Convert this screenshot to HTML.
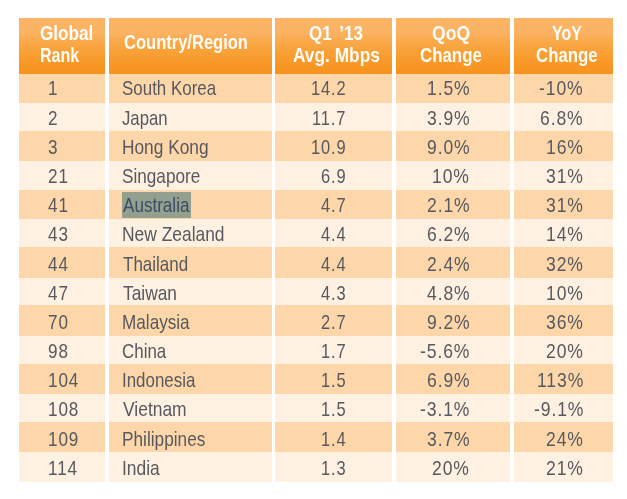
<!DOCTYPE html>
<html><head><meta charset="utf-8"><title>Average connection speed</title><style>
html,body{margin:0;padding:0;background:#fff}
#c{position:relative;width:627px;height:499px;overflow:hidden;background:#fff}
#c div{position:absolute}
.hd{top:18px;height:56px;background:linear-gradient(#fbb465 0%,#fbb263 27%,#faaa4d 40%,#f9a33c 55%,#f89a2b 75%,#f7931e 100%)}
.d{background:#fdd7aa}
.l{background:#fef1e2}
.hl{background:#93a08f}
.n,.t,.h{position:absolute;white-space:pre;transform-origin:0 0;line-height:24px;font-family:"Liberation Sans",sans-serif;color:#57595f}
.n{font-size:20.4px;font-weight:normal;letter-spacing:1.05px;}
.t{font-size:21.0px;font-weight:normal;}
.h{font-size:19.4px;font-weight:bold;color:#fffdf8}
</style></head><body><div id="c">
<div class="hd" style="left:19px;width:86px"></div>
<div class="hd" style="left:109px;width:163px"></div>
<div class="hd" style="left:275px;width:117px"></div>
<div class="hd" style="left:396px;width:114px"></div>
<div class="hd" style="left:514px;width:99px"></div>
<div class="d" style="left:19px;top:74px;width:86px;height:29px"></div>
<div class="d" style="left:109px;top:74px;width:163px;height:29px"></div>
<div class="d" style="left:275px;top:74px;width:117px;height:29px"></div>
<div class="d" style="left:396px;top:74px;width:114px;height:29px"></div>
<div class="d" style="left:514px;top:74px;width:99px;height:29px"></div>
<div class="l" style="left:19px;top:103px;width:86px;height:28px"></div>
<div class="l" style="left:109px;top:103px;width:163px;height:28px"></div>
<div class="l" style="left:275px;top:103px;width:117px;height:28px"></div>
<div class="l" style="left:396px;top:103px;width:114px;height:28px"></div>
<div class="l" style="left:514px;top:103px;width:99px;height:28px"></div>
<div class="d" style="left:19px;top:131px;width:86px;height:30px"></div>
<div class="d" style="left:109px;top:131px;width:163px;height:30px"></div>
<div class="d" style="left:275px;top:131px;width:117px;height:30px"></div>
<div class="d" style="left:396px;top:131px;width:114px;height:30px"></div>
<div class="d" style="left:514px;top:131px;width:99px;height:30px"></div>
<div class="l" style="left:19px;top:161px;width:86px;height:29px"></div>
<div class="l" style="left:109px;top:161px;width:163px;height:29px"></div>
<div class="l" style="left:275px;top:161px;width:117px;height:29px"></div>
<div class="l" style="left:396px;top:161px;width:114px;height:29px"></div>
<div class="l" style="left:514px;top:161px;width:99px;height:29px"></div>
<div class="d" style="left:19px;top:190px;width:86px;height:29px"></div>
<div class="d" style="left:109px;top:190px;width:163px;height:29px"></div>
<div class="d" style="left:275px;top:190px;width:117px;height:29px"></div>
<div class="d" style="left:396px;top:190px;width:114px;height:29px"></div>
<div class="d" style="left:514px;top:190px;width:99px;height:29px"></div>
<div class="l" style="left:19px;top:219px;width:86px;height:28px"></div>
<div class="l" style="left:109px;top:219px;width:163px;height:28px"></div>
<div class="l" style="left:275px;top:219px;width:117px;height:28px"></div>
<div class="l" style="left:396px;top:219px;width:114px;height:28px"></div>
<div class="l" style="left:514px;top:219px;width:99px;height:28px"></div>
<div class="d" style="left:19px;top:247px;width:86px;height:31px"></div>
<div class="d" style="left:109px;top:247px;width:163px;height:31px"></div>
<div class="d" style="left:275px;top:247px;width:117px;height:31px"></div>
<div class="d" style="left:396px;top:247px;width:114px;height:31px"></div>
<div class="d" style="left:514px;top:247px;width:99px;height:31px"></div>
<div class="l" style="left:19px;top:278px;width:86px;height:27px"></div>
<div class="l" style="left:109px;top:278px;width:163px;height:27px"></div>
<div class="l" style="left:275px;top:278px;width:117px;height:27px"></div>
<div class="l" style="left:396px;top:278px;width:114px;height:27px"></div>
<div class="l" style="left:514px;top:278px;width:99px;height:27px"></div>
<div class="d" style="left:19px;top:305px;width:86px;height:31px"></div>
<div class="d" style="left:109px;top:305px;width:163px;height:31px"></div>
<div class="d" style="left:275px;top:305px;width:117px;height:31px"></div>
<div class="d" style="left:396px;top:305px;width:114px;height:31px"></div>
<div class="d" style="left:514px;top:305px;width:99px;height:31px"></div>
<div class="l" style="left:19px;top:336px;width:86px;height:28px"></div>
<div class="l" style="left:109px;top:336px;width:163px;height:28px"></div>
<div class="l" style="left:275px;top:336px;width:117px;height:28px"></div>
<div class="l" style="left:396px;top:336px;width:114px;height:28px"></div>
<div class="l" style="left:514px;top:336px;width:99px;height:28px"></div>
<div class="d" style="left:19px;top:364px;width:86px;height:30px"></div>
<div class="d" style="left:109px;top:364px;width:163px;height:30px"></div>
<div class="d" style="left:275px;top:364px;width:117px;height:30px"></div>
<div class="d" style="left:396px;top:364px;width:114px;height:30px"></div>
<div class="d" style="left:514px;top:364px;width:99px;height:30px"></div>
<div class="l" style="left:19px;top:394px;width:86px;height:28px"></div>
<div class="l" style="left:109px;top:394px;width:163px;height:28px"></div>
<div class="l" style="left:275px;top:394px;width:117px;height:28px"></div>
<div class="l" style="left:396px;top:394px;width:114px;height:28px"></div>
<div class="l" style="left:514px;top:394px;width:99px;height:28px"></div>
<div class="d" style="left:19px;top:422px;width:86px;height:30px"></div>
<div class="d" style="left:109px;top:422px;width:163px;height:30px"></div>
<div class="d" style="left:275px;top:422px;width:117px;height:30px"></div>
<div class="d" style="left:396px;top:422px;width:114px;height:30px"></div>
<div class="d" style="left:514px;top:422px;width:99px;height:30px"></div>
<div class="l" style="left:19px;top:452px;width:86px;height:30px"></div>
<div class="l" style="left:109px;top:452px;width:163px;height:30px"></div>
<div class="l" style="left:275px;top:452px;width:117px;height:30px"></div>
<div class="l" style="left:396px;top:452px;width:114px;height:30px"></div>
<div class="l" style="left:514px;top:452px;width:99px;height:30px"></div>
<div class="hl" style="left:122px;top:192px;width:69px;height:25.5px"></div>
<span class="n" style="left:47.60px;top:76.00px;transform:scaleX(0.8398)">1</span>
<span class="t" style="left:121.54px;top:76.00px;transform:scaleX(0.8069)">South Korea</span>
<span class="n" style="left:310.85px;top:76.00px;transform:scaleX(0.8077)">14.2</span>
<span class="n" style="left:426.59px;top:76.00px;transform:scaleX(0.8599)">1.5%</span>
<span class="n" style="left:539.33px;top:76.00px;transform:scaleX(0.8599)">-10%</span>
<span class="n" style="left:47.60px;top:106.00px;transform:scaleX(0.8398)">2</span>
<span class="t" style="left:122.24px;top:106.00px;transform:scaleX(0.7969)">Japan</span>
<span class="n" style="left:312.04px;top:106.00px;transform:scaleX(0.8077)">11.7</span>
<span class="n" style="left:426.59px;top:106.00px;transform:scaleX(0.8599)">3.9%</span>
<span class="n" style="left:540.19px;top:106.00px;transform:scaleX(0.8599)">6.8%</span>
<span class="n" style="left:47.60px;top:135.00px;transform:scaleX(0.8398)">3</span>
<span class="t" style="left:122.08px;top:135.00px;transform:scaleX(0.8241)">Hong Kong</span>
<span class="n" style="left:310.83px;top:135.00px;transform:scaleX(0.8077)">10.9</span>
<span class="n" style="left:426.59px;top:135.00px;transform:scaleX(0.8599)">9.0%</span>
<span class="n" style="left:546.09px;top:135.00px;transform:scaleX(0.8599)">16%</span>
<span class="n" style="left:47.60px;top:164.00px;transform:scaleX(0.8398)">21</span>
<span class="t" style="left:121.83px;top:164.00px;transform:scaleX(0.8173)">Singapore</span>
<span class="n" style="left:320.91px;top:164.00px;transform:scaleX(0.8077)">6.9</span>
<span class="n" style="left:432.49px;top:164.00px;transform:scaleX(0.8599)">10%</span>
<span class="n" style="left:546.09px;top:164.00px;transform:scaleX(0.8599)">31%</span>
<span class="n" style="left:47.60px;top:193.00px;transform:scaleX(0.8398)">41</span>
<span class="t" style="left:122.68px;top:193.00px;transform:scaleX(0.8132);color:#3a4d62">Australia</span>
<span class="n" style="left:320.93px;top:193.00px;transform:scaleX(0.8077)">4.7</span>
<span class="n" style="left:426.59px;top:193.00px;transform:scaleX(0.8599)">2.1%</span>
<span class="n" style="left:546.09px;top:193.00px;transform:scaleX(0.8599)">31%</span>
<span class="n" style="left:47.60px;top:222.00px;transform:scaleX(0.8398)">43</span>
<span class="t" style="left:121.97px;top:222.00px;transform:scaleX(0.8286)">New Zealand</span>
<span class="n" style="left:320.59px;top:222.00px;transform:scaleX(0.8077)">4.4</span>
<span class="n" style="left:426.59px;top:222.00px;transform:scaleX(0.8599)">6.2%</span>
<span class="n" style="left:546.09px;top:222.00px;transform:scaleX(0.8599)">14%</span>
<span class="n" style="left:47.60px;top:252.00px;transform:scaleX(0.8398)">44</span>
<span class="t" style="left:122.81px;top:252.00px;transform:scaleX(0.8096)">Thailand</span>
<span class="n" style="left:320.59px;top:252.00px;transform:scaleX(0.8077)">4.4</span>
<span class="n" style="left:426.59px;top:252.00px;transform:scaleX(0.8599)">2.4%</span>
<span class="n" style="left:546.09px;top:252.00px;transform:scaleX(0.8599)">32%</span>
<span class="n" style="left:47.60px;top:281.00px;transform:scaleX(0.8398)">47</span>
<span class="t" style="left:122.81px;top:281.00px;transform:scaleX(0.8249)">Taiwan</span>
<span class="n" style="left:320.90px;top:281.00px;transform:scaleX(0.8077)">4.3</span>
<span class="n" style="left:426.59px;top:281.00px;transform:scaleX(0.8599)">4.8%</span>
<span class="n" style="left:546.09px;top:281.00px;transform:scaleX(0.8599)">10%</span>
<span class="n" style="left:47.60px;top:310.00px;transform:scaleX(0.8398)">70</span>
<span class="t" style="left:121.99px;top:310.00px;transform:scaleX(0.8164)">Malaysia</span>
<span class="n" style="left:320.93px;top:310.00px;transform:scaleX(0.8077)">2.7</span>
<span class="n" style="left:426.59px;top:310.00px;transform:scaleX(0.8599)">9.2%</span>
<span class="n" style="left:546.09px;top:310.00px;transform:scaleX(0.8599)">36%</span>
<span class="n" style="left:47.60px;top:339.00px;transform:scaleX(0.8398)">98</span>
<span class="t" style="left:121.99px;top:339.00px;transform:scaleX(0.8067)">China</span>
<span class="n" style="left:320.93px;top:339.00px;transform:scaleX(0.8077)">1.7</span>
<span class="n" style="left:419.92px;top:339.00px;transform:scaleX(0.8599)">-5.6%</span>
<span class="n" style="left:546.09px;top:339.00px;transform:scaleX(0.8599)">20%</span>
<span class="n" style="left:47.60px;top:368.00px;transform:scaleX(0.8398)">104</span>
<span class="t" style="left:122.29px;top:368.00px;transform:scaleX(0.8050)">Indonesia</span>
<span class="n" style="left:320.84px;top:368.00px;transform:scaleX(0.8077)">1.5</span>
<span class="n" style="left:426.59px;top:368.00px;transform:scaleX(0.8599)">6.9%</span>
<span class="n" style="left:536.63px;top:368.00px;transform:scaleX(0.8599)">113%</span>
<span class="n" style="left:47.60px;top:397.00px;transform:scaleX(0.8398)">108</span>
<span class="t" style="left:122.63px;top:397.00px;transform:scaleX(0.8303)">Vietnam</span>
<span class="n" style="left:320.84px;top:397.00px;transform:scaleX(0.8077)">1.5</span>
<span class="n" style="left:419.92px;top:397.00px;transform:scaleX(0.8599)">-3.1%</span>
<span class="n" style="left:533.52px;top:397.00px;transform:scaleX(0.8599)">-9.1%</span>
<span class="n" style="left:47.60px;top:427.00px;transform:scaleX(0.8398)">109</span>
<span class="t" style="left:122.19px;top:427.00px;transform:scaleX(0.8207)">Philippines</span>
<span class="n" style="left:320.59px;top:427.00px;transform:scaleX(0.8077)">1.4</span>
<span class="n" style="left:426.59px;top:427.00px;transform:scaleX(0.8599)">3.7%</span>
<span class="n" style="left:546.09px;top:427.00px;transform:scaleX(0.8599)">24%</span>
<span class="n" style="left:47.60px;top:456.00px;transform:scaleX(0.8398)">114</span>
<span class="t" style="left:122.24px;top:456.00px;transform:scaleX(0.8283)">India</span>
<span class="n" style="left:320.90px;top:456.00px;transform:scaleX(0.8077)">1.3</span>
<span class="n" style="left:432.49px;top:456.00px;transform:scaleX(0.8599)">20%</span>
<span class="n" style="left:546.09px;top:456.00px;transform:scaleX(0.8599)">21%</span>
<span class="h" style="left:39.92px;top:21.00px;transform:scaleX(0.8845)">Global</span>
<span class="h" style="left:40.41px;top:43.00px;transform:scaleX(0.8274)">Rank</span>
<span class="h" style="left:124.35px;top:30.00px;transform:scaleX(0.8524)">Country/Region</span>
<span class="h" style="left:308.92px;top:21.00px;transform:scaleX(0.8758);word-spacing:3.4px">Q1 ’13</span>
<span class="h" style="left:292.61px;top:43.00px;transform:scaleX(0.8928)">Avg. Mbps</span>
<span class="h" style="left:431.79px;top:21.00px;transform:scaleX(0.9055)">QoQ</span>
<span class="h" style="left:420.03px;top:43.00px;transform:scaleX(0.8700)">Change</span>
<span class="h" style="left:552.09px;top:21.00px;transform:scaleX(0.8211)">YoY</span>
<span class="h" style="left:536.33px;top:43.00px;transform:scaleX(0.8671)">Change</span>
</div></body></html>
